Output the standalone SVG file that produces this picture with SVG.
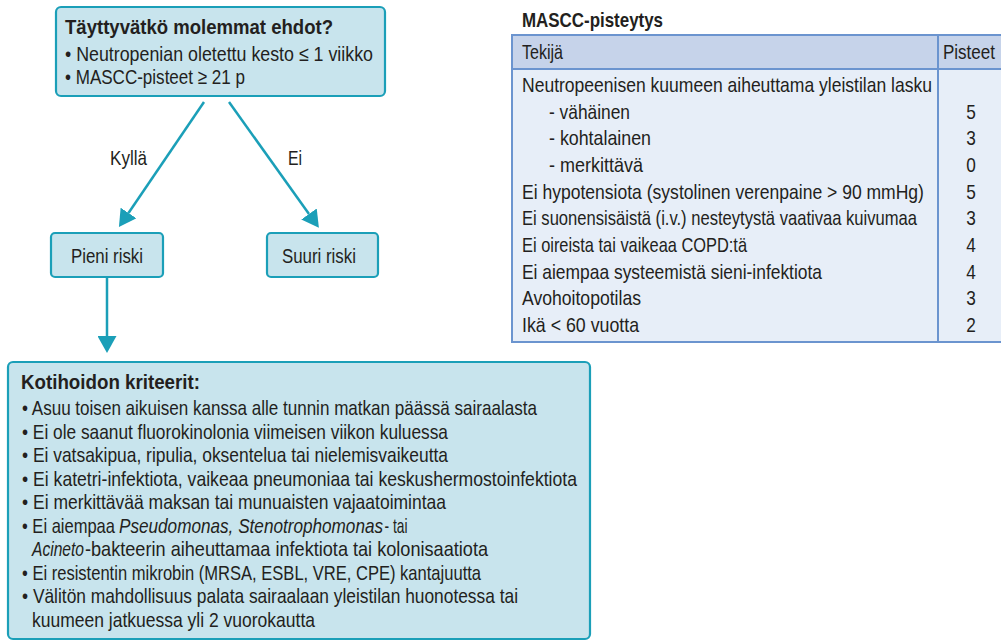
<svg xmlns="http://www.w3.org/2000/svg" width="1001" height="641" viewBox="0 0 1001 641">
<style>
text{font-family:"Liberation Sans",Arial,sans-serif;font-size:21px;fill:#231f20}
.b{font-weight:bold}
.i{font-style:italic}
.box{fill:#c8e4ed;stroke:#1b9fb8;stroke-width:2.2}
.conn{stroke:#1b9fb8;stroke-width:2.5;fill:none}
.tl{stroke:#6b94cf;stroke-width:2;fill:none}
.c{text-anchor:middle}
</style>
<defs>
<marker id="ah" markerUnits="userSpaceOnUse" markerWidth="17" markerHeight="19" viewBox="0 0 17 19" refX="0" refY="9.5" orient="auto">
<path d="M0,0 L17,9.5 L0,19 z" fill="#1b9fb8"/>
</marker>
</defs>
<rect width="1001" height="641" fill="#ffffff"/>

<g id="node-question">
<rect class="box" x="56" y="7" width="329" height="89" rx="5"/>
<text class="b" transform="translate(65,34) scale(0.82,1)" textLength="326.8" lengthAdjust="spacingAndGlyphs">Täyttyvätkö molemmat ehdot?</text>
<text transform="translate(65,61) scale(0.82,1)" textLength="375.6" lengthAdjust="spacingAndGlyphs">• Neutropenian oletettu kesto ≤ 1 viikko</text>
<text transform="translate(65,84) scale(0.82,1)" textLength="219.5" lengthAdjust="spacingAndGlyphs">• MASCC-pisteet ≥ 21 p</text>
</g>

<g id="node-low">
<rect class="box" x="51" y="233" width="112" height="44" rx="4"/>
<text transform="translate(71,263) scale(0.82,1)" textLength="87.8" lengthAdjust="spacingAndGlyphs">Pieni riski</text>
</g>

<g id="node-high">
<rect class="box" x="267" y="233" width="111" height="44" rx="4"/>
<text transform="translate(282,263) scale(0.82,1)" textLength="90.2" lengthAdjust="spacingAndGlyphs">Suuri riski</text>
</g>

<g id="connectors">
<line class="conn" x1="204" y1="102" x2="128.5" y2="213" marker-end="url(#ah)"/>
<line class="conn" x1="229" y1="102" x2="309" y2="214" marker-end="url(#ah)"/>
<line class="conn" x1="107" y1="278" x2="107" y2="336" marker-end="url(#ah)"/>
<text transform="translate(110,165) scale(0.82,1)" textLength="45.1" lengthAdjust="spacingAndGlyphs">Kyllä</text>
<text transform="translate(288,165) scale(0.82,1)" textLength="17.1" lengthAdjust="spacingAndGlyphs">Ei</text>
</g>

<g id="node-criteria">
<rect class="box" x="8" y="362" width="582" height="277" rx="5"/>
<text class="b" transform="translate(21,389) scale(0.82,1)" textLength="218.3" lengthAdjust="spacingAndGlyphs">Kotihoidon kriteerit:</text>
<text transform="translate(22,415) scale(0.82,1)" textLength="628" lengthAdjust="spacingAndGlyphs">• Asuu toisen aikuisen kanssa alle tunnin matkan päässä sairaalasta</text>
<text transform="translate(22,438.5) scale(0.82,1)" textLength="519.5" lengthAdjust="spacingAndGlyphs">• Ei ole saanut fluorokinolonia viimeisen viikon kuluessa</text>
<text transform="translate(22,462) scale(0.82,1)" textLength="519.5" lengthAdjust="spacingAndGlyphs">• Ei vatsakipua, ripulia, oksentelua tai nielemisvaikeutta</text>
<text transform="translate(22,485.5) scale(0.82,1)" textLength="676.8" lengthAdjust="spacingAndGlyphs">• Ei katetri-infektiota, vaikeaa pneumoniaa tai keskushermostoinfektiota</text>
<text transform="translate(22,509) scale(0.82,1)" textLength="517.1" lengthAdjust="spacingAndGlyphs">• Ei merkittävää maksan tai munuaisten vajaatoimintaa</text>
<text transform="translate(22,532.5) scale(0.82,1)" textLength="113.4" lengthAdjust="spacingAndGlyphs">• Ei aiempaa</text>
<text class="i" transform="translate(119,532.5) scale(0.82,1)" textLength="322" lengthAdjust="spacingAndGlyphs">Pseudomonas, Stenotrophomonas</text>
<text transform="translate(384.5,532.5) scale(0.82,1)" textLength="28" lengthAdjust="spacingAndGlyphs">- tai</text>
<text class="i" transform="translate(32,556) scale(0.82,1)" textLength="63.4" lengthAdjust="spacingAndGlyphs">Acineto</text>
<text transform="translate(85,556) scale(0.82,1)" textLength="491.5" lengthAdjust="spacingAndGlyphs">-bakteerin aiheuttamaa infektiota tai kolonisaatiota</text>
<text transform="translate(22,579.5) scale(0.82,1)" textLength="559.8" lengthAdjust="spacingAndGlyphs">• Ei resistentin mikrobin (MRSA, ESBL, VRE, CPE) kantajuutta</text>
<text transform="translate(22,603) scale(0.82,1)" textLength="604.9" lengthAdjust="spacingAndGlyphs">• Välitön mahdollisuus palata sairaalaan yleistilan huonotessa tai</text>
<text transform="translate(32,626.5) scale(0.82,1)" textLength="345.1" lengthAdjust="spacingAndGlyphs">kuumeen jatkuessa yli 2 vuorokautta</text>
</g>

<g id="table-mascc">
<text class="b" transform="translate(522,27) scale(0.82,1)" font-size="20" textLength="172" lengthAdjust="spacingAndGlyphs">MASCC-pisteytys</text>
<rect x="512" y="35" width="495" height="34" fill="#c6d3ea"/>
<rect x="512" y="69" width="495" height="273" fill="#e7eef8"/>
<path class="tl" d="M1005,35 H512 V342 H1005 M512,69 H1005 M938,35 V342"/>
<text transform="translate(522,59) scale(0.82,1)" textLength="50" lengthAdjust="spacingAndGlyphs">Tekijä</text>
<text transform="translate(943,59) scale(0.82,1)" textLength="63.4" lengthAdjust="spacingAndGlyphs">Pisteet</text>
<text transform="translate(522,92) scale(0.82,1)" textLength="500" lengthAdjust="spacingAndGlyphs">Neutropeenisen kuumeen aiheuttama yleistilan lasku</text>
<text transform="translate(549,118.7) scale(0.82,1)" textLength="98.8" lengthAdjust="spacingAndGlyphs">- vähäinen</text>
<text transform="translate(549,145.3) scale(0.82,1)" textLength="124.4" lengthAdjust="spacingAndGlyphs">- kohtalainen</text>
<text transform="translate(549,172) scale(0.82,1)" textLength="114.6" lengthAdjust="spacingAndGlyphs">- merkittävä</text>
<text transform="translate(522,198.7) scale(0.82,1)" textLength="490.2" lengthAdjust="spacingAndGlyphs">Ei hypotensiota (systolinen verenpaine &gt; 90 mmHg)</text>
<text transform="translate(522,225.3) scale(0.82,1)" textLength="481.7" lengthAdjust="spacingAndGlyphs">Ei suonensisäistä (i.v.) nesteytystä vaativaa kuivumaa</text>
<text transform="translate(522,252) scale(0.82,1)" textLength="274.4" lengthAdjust="spacingAndGlyphs">Ei oireista tai vaikeaa COPD:tä</text>
<text transform="translate(522,278.7) scale(0.82,1)" textLength="365.9" lengthAdjust="spacingAndGlyphs">Ei aiempaa systeemistä sieni-infektiota</text>
<text transform="translate(522,305.3) scale(0.82,1)" textLength="145.1" lengthAdjust="spacingAndGlyphs">Avohoitopotilas</text>
<text transform="translate(522,332) scale(0.82,1)" textLength="142.7" lengthAdjust="spacingAndGlyphs">Ikä &lt; 60 vuotta</text>
<text class="c" transform="translate(971,118.7) scale(0.82,1)">5</text>
<text class="c" transform="translate(971,145.3) scale(0.82,1)">3</text>
<text class="c" transform="translate(971,172) scale(0.82,1)">0</text>
<text class="c" transform="translate(971,198.7) scale(0.82,1)">5</text>
<text class="c" transform="translate(971,225.3) scale(0.82,1)">3</text>
<text class="c" transform="translate(971,252) scale(0.82,1)">4</text>
<text class="c" transform="translate(971,278.7) scale(0.82,1)">4</text>
<text class="c" transform="translate(971,305.3) scale(0.82,1)">3</text>
<text class="c" transform="translate(971,332) scale(0.82,1)">2</text>
</g>
</svg>
